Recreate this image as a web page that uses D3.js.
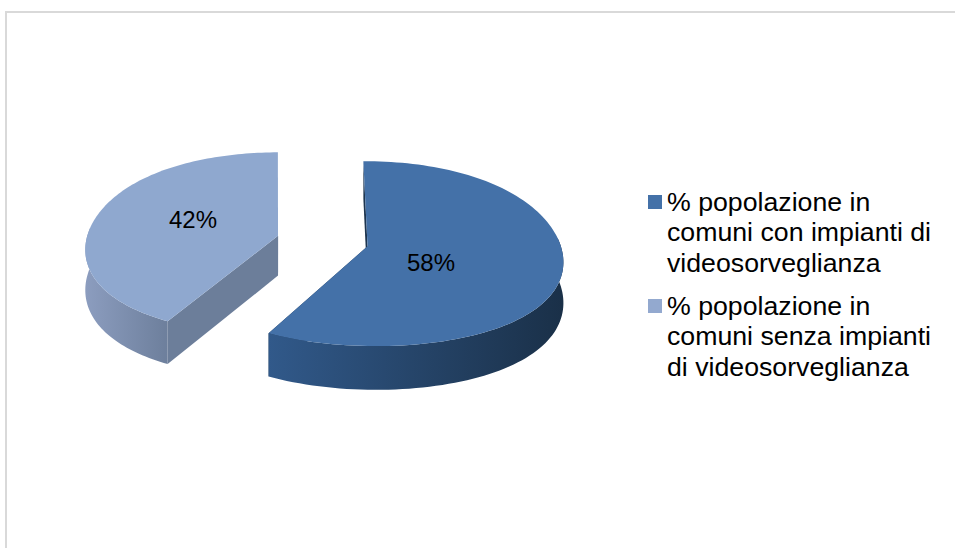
<!DOCTYPE html>
<html>
<head>
<meta charset="utf-8">
<script src="https://cdn.jsdelivr.net/npm/d3@7/dist/d3.min.js"></script>
<style>
html,body{margin:0;padding:0;background:#fff}
svg{display:block}
text{font-family:"Liberation Sans",Arial,sans-serif;fill:#000}
</style>
</head>
<body>
<div id="chart"></div>
<script>
const categories = ["con", "senza"];
const shares = [58, 42];
const legendLines = [
  ["% popolazione in", "comuni con impianti di", "videosorveglianza"],
  ["% popolazione in", "comuni senza impianti", "di videosorveglianza"]
];
const topColors = ["#4471a8", "#8fa8cf"];
const swatchColors = ["#4471a8", "#93a9cf"];
const edgeColors = ["#1d3550", "#6c7e9a"];
const wallStops = [["#31598a", "#1a3048"], ["#8c9dbf", "#6d7f9c"]];
const labelSpots = [[431, 265], [193, 222]];

const W = 955, H = 548;
const cx = 322.5, cy = 241, rx = 192, ry = 91, widen = 0.115, widenCurve = 0.07, perspY = 0.08, depth = 40, burst = 0.24;

const svg = d3.select("#chart").append("svg").attr("width", W).attr("height", H);

// outer frame of the chart area
svg.append("rect").attr("x", 6).attr("y", 12).attr("width", W + 10).attr("height", H + 10)
  .attr("fill", "#fff").attr("stroke", "#d9d9d9").attr("stroke-width", 2);

const pie = d3.pie().sort(null).value(d => d).startAngle(-0.01).endAngle(2 * Math.PI - 0.01);
const arcs = pie(shares);

// disc coordinates to screen, tilted with a mild perspective
const project = (u, v, lift = 0) => {
  const sx = 1 + widen * v + widenCurve * v * v, sy = 1 / (1 - perspY * v);
  return [cx + u * rx * sx, cy + v * ry * sy + lift * sy];
};
const line = d3.line();

const defs = svg.append("defs");
const sliceGeo = arcs.map((a, i) => {
  const mid = (a.startAngle + a.endAngle) / 2;
  const ox = Math.sin(mid) * burst, oy = -Math.cos(mid) * burst;
  const at = (t, r = 1, lift = 0) => project(ox + Math.sin(t) * r, oy - Math.cos(t) * r, lift);
  const steps = d3.range(0, 121).map(k => a.startAngle + (a.endAngle - a.startAngle) * k / 120);
  return {a, i, at, steps};
});

sliceGeo.forEach(g => {
  const {a, i, at, steps} = g;
  // only the near half of the rim is visible
  const rim = steps.filter(t => -Math.cos(t) > -0.1);
  const xs = rim.map(t => at(t)[0]);
  const grad = defs.append("linearGradient").attr("id", "wall" + i)
    .attr("gradientUnits", "userSpaceOnUse")
    .attr("x1", d3.min(xs)).attr("x2", d3.max(xs)).attr("y1", 0).attr("y2", 0);
  grad.append("stop").attr("offset", 0).attr("stop-color", wallStops[i][0]);
  grad.append("stop").attr("offset", 1).attr("stop-color", wallStops[i][1]);

  const group = svg.append("g");
  // radial walls on both cut edges, behind the top face
  [a.startAngle, a.endAngle].forEach(t => {
    group.append("path")
      .attr("d", line([at(t), at(t, 0), at(t, 0, depth), at(t, 1, depth)]) + "Z")
      .attr("fill", edgeColors[i]);
  });
  // curved outer wall
  const wall = rim.map(t => at(t)).concat(rim.slice().reverse().map(t => at(t, 1, depth)));
  group.append("path").attr("d", line(wall) + "Z").attr("fill", `url(#wall${i})`);
  // top face
  const face = [at(a.startAngle, 0)].concat(steps.map(t => at(t)));
  group.append("path").attr("d", line(face) + "Z").attr("fill", topColors[i]);
});

// percentage labels
svg.selectAll("text.pct").data(arcs).join("text").attr("class", "pct")
  .attr("x", (d, i) => labelSpots[i][0]).attr("y", (d, i) => labelSpots[i][1])
  .attr("text-anchor", "middle").attr("dominant-baseline", "middle")
  .attr("font-size", 24).text(d => d.data + "%");

// legend
const swatchTop = [195, 299], firstBaseline = [211, 315], lineGap = 30.4;
legendLines.forEach((lines, i) => {
  svg.append("rect").attr("x", 648).attr("y", swatchTop[i]).attr("width", 14).attr("height", 14)
    .attr("fill", swatchColors[i]);
  lines.forEach((txt, j) => {
    svg.append("text").attr("x", 667).attr("y", firstBaseline[i] + j * lineGap)
      .attr("font-size", 26.7).text(txt);
  });
});
</script>
</body>
</html>
